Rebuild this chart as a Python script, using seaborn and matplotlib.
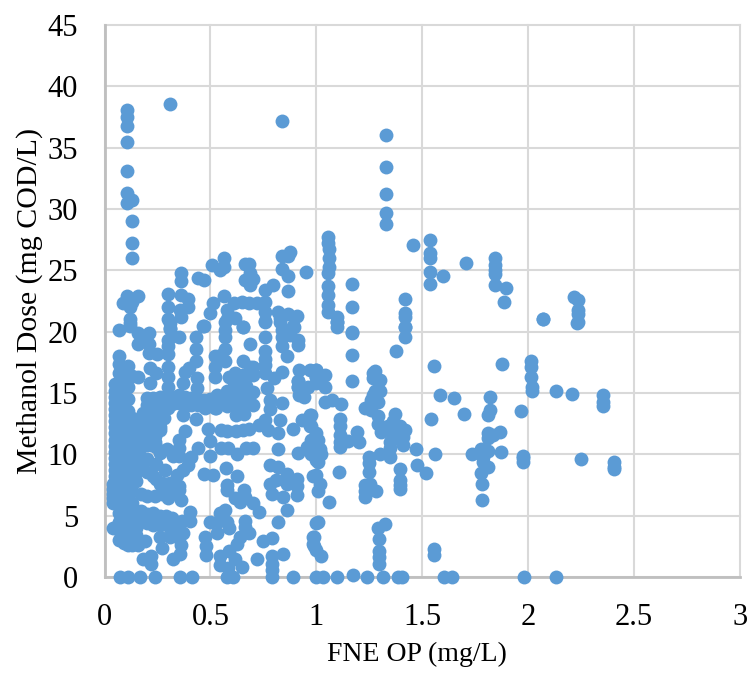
import pandas as pd
import matplotlib
matplotlib.use("Agg")
import matplotlib.pyplot as plt
import seaborn as sns

# Values, grouped by region of the plot
upper_x = [.309, .105, .105, .105, .105, .105, .105, .105, .13, .131, .131, .131, .84, 1.331, 1.331, 1.331, 1.331, 1.331, 1.454,
           1.056, 1.056, 1.06, 1.06, 1.06, 1.056, 1.056, 1.056, 1.056, 1.056, 1.098, 1.098, 1.17, 1.17, 1.17, 1.417, 1.417, 1.417, 1.417,
           .359, .359, .443, .47, .506, .565, .565, .545, .663, .683, .686, .7, .686, .663, .76, .796, .839, .875, .867, .839, .864, .953, .864,
           .105, .089, .13, .16, .12, .12, .12, .07, .3, .3, .3, .31, .359, .396, .396, .356, .359, .466, .565, .514, .5,
           .58, .61, .65, .68, .72, .76, .76, .76, .58, .615, .655, .82, .83, .867, .91, .89,
           1.538, 1.538, 1.538, 1.538, 1.538, 1.598, 1.705, 1.842, 1.842, 1.842, 1.842, 1.842, 1.897, 1.886, 2.068,
           2.216, 2.237, 2.233, 2.233, 2.233, 1.098, .83, .84, .84, .875, .84, .895, .915, .915, .655, .685, .76, .76]
upper_y = [38.6, 38.1, 37.5, 36.8, 35.5, 33.1, 31.3, 30.5, 30.7, 29, 27.2, 26, 37.2, 36, 33.4, 31.2, 29.7, 28.8, 27.1,
           27.7, 27.2, 26.7, 26, 25.3, 24.8, 23.7, 23, 22.2, 21.6, 21.2, 20.8, 23.9, 22, 20, 22.7, 21.5, 21.2, 20.4,
           24.8, 24.1, 24.4, 24.2, 25.4, 26, 25.3, 25, 25.5, 25.5, 24.8, 24.3, 23.8, 24.2, 23.4, 23.8, 26.2, 26.5, 26.2, 25.1, 24.5, 24.9, 23.3,
           22.9, 22.3, 22.4, 22.9, 22, 21, 20.5, 20.1, 23.1, 22, 21, 20.3, 23, 22.7, 22, 21.8, 21.2, 20.5, 22.9, 22.3, 21.5,
           21.8, 22.3, 22.4, 22.3, 22.3, 22.4, 21.6, 20.9, 21, 21.1, 20.4, 21.6, 21.1, 21.4, 21.3, 20.5,
           27.5, 26.4, 26, 24.9, 23.9, 24.5, 25.6, 26, 25.4, 25, 24.7, 23.8, 23.6, 22.4, 21,
           22.8, 22.6, 21.8, 21.4, 20.8, 20.4, 20.8, 20.1, 19.6, 19.7, 18.8, 20.4, 19.3, 18.9, 20.4, 19, 19.6, 20.8]

left_column_x = [.05] * 21 + [.07] * 18 + [.09] * 17 + [.11] * 18 + [.13] * 15 + [.15] * 12 + [.04] * 6
left_column_y = [15.7, 15.2, 14.7, 14.2, 13.7, 13.2, 12.7, 12.2, 11.7, 11.2, 10.7, 10.2, 9.7, 9.2, 8.7, 8.2, 7.8, 7.4, 7, 6.6, 6.2,
                 18, 17.4, 16.6, 15.8, 15, 14, 13, 12, 11, 10, 9, 8, 7, 6, 5.2, 4.5, 3.8, 3,
                 17, 16, 15, 14, 13, 12, 11, 10, 9, 8, 7, 6, 5, 4.2, 3.6, 3.2, 2.8,
                 17.2, 16.5, 15.5, 14.5, 13.5, 12.5, 11.5, 10.5, 9.5, 8.5, 7.5, 6.5, 5.5, 4.8, 4.2, 3.6, 3, 2.6,
                 16.4, 13, 12, 11, 10, 9, 8, 7, 6, 5, 4.5, 4, 3.5, 3, 2.6,
                 12.6, 11.8, 11, 10.2, 9.4, 8.6, 7.8, 5.2, 4.6, 4, 3.4, 2.8,
                 7.6, 7.2, 6.8, 6.4, 6, 4]

mid_left_x = [.12, .16, .21, .16, .21, .19, .21, .25, .3, .3, .3, .31, .31, .35, .47, .43, .43, .57, .57, .57, .57, .55, .52, .57, .52, .52,
              .215, .245, .3, .215, .16, .4, .43, .38, .3, .3, .3, .37, .435, .435,
              .2, .23, .26, .29, .32, .35, .38, .41, .44, .47, .5, .53, .2, .23, .26, .29, .32, .35, .38, .41, .44, .47, .5, .53,
              .37, .43, .475, .52, .18, .2, .22, .24, .26, .28, .3, .18, .2, .22, .24, .26, .28, .18, .2, .22, .24, .26, .18, .2, .22, .24, .26, .18, .2, .22, .24,
              .38, .35, .35, .35, .44, .41, .395, .37, .34, .47, .51, .245, .26, .295, .325, .245, .285, .245, .27, .31, .35, .36,
              .17, .2, .17, .2, .23, .26, .29, .32, .35, .17, .2, .24, .27, .3, .33,
              .405, .405, .365, .35, .17, .2, .23, .26, .29, .32, .2, .23, .26, .31, .34, .37, .16, .19, .26, .27, .18, .22, .22, .325, .355, .36, .31, .35]
mid_left_y = [20.7, 19.9, 19.9, 19, 19, 19.3, 18.3, 18.2, 18.2, 19.3, 18.8, 20.7, 20.2, 19.6, 20.5, 19.6, 18.6, 20.1, 19.6, 20.8, 18.6, 18.1, 18, 17.6, 17.1, 16.3,
              17, 16.6, 17.1, 15.8, 16.3, 17, 17.6, 16.7, 16.3, 15.5, 14.8, 15.8, 16.2, 15.4,
              14.6, 14.6, 14.7, 14.6, 14.7, 14.8, 14.7, 14.6, 14.5, 14.4, 14.5, 14.8, 14, 14.1, 14.1, 14, 14.1, 14.2, 14, 14, 14, 13.9, 14.2, 14.3,
              13.2, 12.9, 13.8, 13.8, 13.4, 13.4, 13.4, 13.5, 13.4, 13.6, 13.8, 12.8, 12.8, 12.8, 12.8, 12.8, 13, 12.1, 12.1, 12.1, 12.1, 12.2, 11.4, 11.4, 11.4, 11.5, 12, 10.8, 10.8, 10.8, 11,
              11.9, 11.2, 10.5, 9.9, 10.5, 9.8, 9.1, 8.7, 8.3, 8.4, 8.3, 10.6, 10.1, 10.4, 9.9, 9.2, 8.7, 8, 7.7, 7.7, 7.1, 6.3,
              9.8, 9.6, 9, 8.6, 8.2, 7.6, 7.6, 7.2, 7.4, 6.8, 6.6, 6.6, 6.8, 6.4, 6.9,
              5.3, 4.6, 4.6, 4, 5.4, 5.1, 5.2, 5, 5, 4.8, 4.4, 4.2, 4.2, 4, 3.8, 3.6, 2.6, 2.9, 3.3, 2.4, 1.5, 1.7, 1.1, 1.5, 1.9, 2.6, 3.3, 3.2]

mid_center_x = [.655, .685, .76, .76, .76, .76, .8, .84, .86, .915, .915, .655, .7, .7, .655, .615, .59,
                .92, .915, .915, .92, .94, .96, 1, .97, 1, .525, .58, .61, .64, .67, .7, .56, .59, .62, .65, .68, .58, .61, .64, .67, .7, .62, .66,
                .49, .55, .58, .62, .655, .68, .73, .76, .77, .83, .82, .82, .89, .93, .97, .97, .78, .78, .765, .84, .5, .55, .5, .625, .7, .67, .585,
                .78, .82, .86, .78, .81, .86, .79, .845, .86, .91, .91, .91, .915, .955, .985, 1, .985, 1, .985,
                .575, .625, .58, .58, .66, .665, .615, .64, .7, .73, .57, .545,
                .5, .54, .58, .59, .53, .475, .48, .48, .665, .665, .68, .64, .625, .82, .75, .79, .845, .72, .79, .79, .79,
                .59, .615, .65, .545, .545, .585, 1, .985, .985, 1]
mid_center_y = [17.6, 17.1, 18.4, 17.8, 17.3, 16.6, 16.2, 16.7, 18, 16, 15.5, 16.5, 16.5, 17.1, 16.5, 16.6, 16.3,
                16.9, 16, 15.5, 14.8, 14.7, 15.5, 16.9, 16.9, 16.3, 13.8, 15.2, 15.6, 15.8, 15.6, 15.1, 14.6, 14.8, 14.9, 14.8, 14.6, 13.9, 13.9, 14, 14.1, 14, 13.2, 13.3,
                12.1, 12, 11.9, 11.9, 12, 12.1, 12.4, 12.8, 12, 12.8, 11.7, 10.4, 12.1, 12.8, 13.2, 12.3, 13.7, 14.4, 15.4, 14.2, 11.1, 10.5, 9.9, 10, 10.5, 10.5, 10.5,
                9.1, 9, 8.4, 7.6, 7.9, 7.6, 6.8, 6.5, 5.5, 8, 7.4, 6.7, 10.1, 10.6, 10.1, 11.7, 11.2, 9.5, 8.2,
                8.9, 8.2, 7.5, 7.1, 7.1, 6.5, 6.4, 6.1, 6, 5.3, 5.5, 5.2,
                4.5, 4.6, 4.5, 4, 3.6, 3.3, 2.5, 1.8, 4.6, 4.1, 3.6, 3.3, 2.7, 4.5, 2.9, 3.2, 1.9, 1.5, 1.7, 1.1, .6,
                2.1, 1.5, .8, 1.7, 1, .7, 4.4, 3.3, 2.7, 2.2]

right_x = [1.098, 1.169, 1.169, 1.169, 1.417, 1.417, 1.375, 1.554, 1.875, 2.015, 2.015, 2.015, 2.018, 2.018, 2.07, 2.23, 2.13, 2.208, 2.353, 2.353, 2.353,
           1, 1, 1, 1.04, 1.04, 1.279, 1.268, 1.268, 1.3, 1.275, 1.3, 1.268, 1.29, 1.26, 1.228, 1.26, 1.29, 1.29, 1.307,
           1.04, 1.076, 1.115, 1.114, 1.114, 1.114, 1.11, 1.11, 1.15, 1.19, 1.2,
           .977, .977, 1.008, 1.016, 1.024, 1.008, .977, .977, 1.106, 1, 1.016, 1.008, 1.059, 1.008, .988, .988, 1.02,
           1.249, 1.249, 1.249, 1.228, 1.252, 1.228, 1.283, 1.228, 1.3, 1.346, 1.346,
           1.37, 1.362, 1.338, 1.393, 1.417, 1.409, 1.346, 1.378, 1.409, 1.362, 1.472, 1.475, 1.519,
           1.393, 1.393, 1.393, 1.393, 1.562, 1.543, 1.582, 1.648, 1.697, 1.821, 1.821, 1.81, 1.964,
           1.865, 1.834, 1.81, 1.81, 1.736, 1.779, 1.81, 1.787, 1.787, 1.81, 1.873, 1.975, 1.975, 1.975,
           1.779, 1.782, 1.782, 2.249, 2.407, 2.407, 2.407, 1.291, 1.323, 1.295, 1.295, 1.295, 1.295, 1.554, 1.554]
right_y = [20.8, 19.9, 18.1, 16, 20.4, 19.6, 18.4, 17.2, 17.4, 17.6, 17.1, 16.3, 15.5, 15.2, 21, 20.7, 15.2, 14.9, 14.8, 14.3, 13.9,
           16.9, 16.3, 15.8, 16.5, 15.5, 16.8, 16.6, 16.2, 16.1, 15.2, 15.2, 14.8, 14.3, 14.4, 13.8, 13.6, 13.1, 12.5, 11.8,
           14.3, 14.4, 14.1, 12.9, 12.3, 11.6, 11, 10.6, 11.1, 11.8, 11,
           13.2, 12.3, 11.2, 10.4, 10, 9.4, 11.2, 10, 8.6, 8.3, 7.6, 7, 6.1, 4.5, 3.3, 2.5, 1.7,
           9.8, 9.3, 8.6, 7.5, 7.6, 7, 7, 6.5, 10, 9.8, 10.5,
           13.3, 12.7, 12.3, 12.3, 12, 11.4, 11, 11.3, 10.8, 11.6, 10.4, 9.1, 8.5,
           8.8, 7.9, 7.5, 7.2, 10, 12.9, 14.8, 14.6, 13.3, 14.7, 13.6, 13.2, 13.5,
           11.8, 11.6, 11.7, 11.3, 10, 10.4, 10.3, 9.8, 9.4, 9, 10.2, 9.9, 9.7, 9.4,
           8.5, 7.6, 6.3, 9.6, 9.4, 9, 8.8, 4, 4.3, 3.1, 2.1, 1.6, 1.1, 2.3, 1.8]

zero_x = [.073, .11, .167, .238, .356, .411, .577, .608, .793, .888, 1, 1.03, 1.098, 1.175, 1.241, 1.315, 1.386, 1.406, 1.603, 1.64, 1.978, 2.13]
zero_y = [0, 0, 0, 0, 0, 0, 0, 0, 0, 0, 0, 0, 0, .2, 0, 0, 0, 0, 0, 0, 0, 0]

x_ticks = [0, .5, 1, 1.5, 2, 2.5, 3]
x_tick_labels = ["0", "0.5", "1", "1.5", "2", "2.5", "3"]
y_ticks = [0, 5, 10, 15, 20, 25, 30, 35, 40, 45]

df = pd.DataFrame({
    "FNE OP": upper_x + left_column_x + mid_left_x + mid_center_x + right_x + zero_x,
    "Methanol Dose": upper_y + left_column_y + mid_left_y + mid_center_y + right_y + zero_y,
})

plt.rcParams['font.family'] = ['Liberation Serif', 'DejaVu Serif']

fig = plt.figure(figsize=(7.48, 6.73), dpi=100)
ax = fig.add_axes([104.5 / 748, (673 - 577) / 673, (740 - 104.5) / 748, (577 - 25) / 673])
sns.scatterplot(data=df, x="FNE OP", y="Methanol Dose", color="#5B9BD5", s=100, linewidth=0, alpha=1, clip_on=False, zorder=3, ax=ax)

ax.set_xlim(0, 3)
ax.set_ylim(0, 45)
ax.set_xticks(x_ticks)
ax.set_xticklabels(x_tick_labels)
ax.set_yticks(y_ticks)
ax.grid(True, color="#D9D9D9", linewidth=1.5, clip_on=False)
ax.set_axisbelow(True)
ax.tick_params(length=0, labelsize=22)
ax.tick_params(axis="y", pad=19)
ax.tick_params(axis="x", pad=19)
ax.set_xlabel("FNE OP (mg/L)", fontsize=20, labelpad=7, x=.492)
ax.set_ylabel("Methanol Dose (mg COD/L)", fontsize=21.5, labelpad=3)
for side in ["top", "right"]:
    ax.spines[side].set_visible(False)
for side in ["left", "bottom"]:
    ax.spines[side].set_color("#BFBFBF")
    ax.spines[side].set_linewidth(2)
    ax.spines[side].set_zorder(2)

plt.savefig("out.png", dpi=100)
plt.close()
